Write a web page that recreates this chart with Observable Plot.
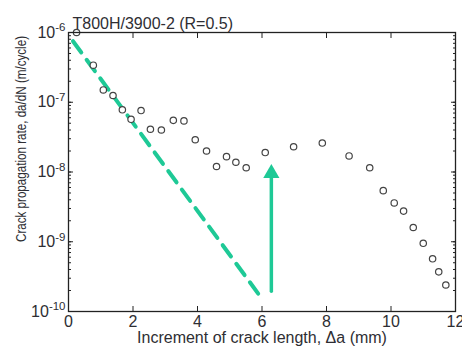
<!DOCTYPE html>
<html>
<head>
<meta charset="utf-8">
<script src="https://cdn.jsdelivr.net/npm/d3@7"></script>
<script src="https://cdn.jsdelivr.net/npm/@observablehq/plot@0.6"></script>
<style>
  html, body { margin: 0; padding: 0; background: white; }
</style>
</head>
<body>
<div id="chart"></div>
<script>
// Title and axis labels
const titleText = "T800H/3900-2 (R=0.5)";
const xLabel = "Increment of crack length, \u0394a (mm)";
const yLabel = "Crack propagation rate, da/dN (m/cycle)";

// Measured points: crack length increment (mm) and da/dN (m/cycle)
const crackIncrement = [0.25, 0.77, 1.08, 1.38, 1.67, 1.94, 2.25, 2.54, 2.88, 3.25, 3.58, 3.93, 4.28, 4.59, 4.90, 5.19, 5.51, 6.10, 6.98, 7.87, 8.70, 9.34, 9.76, 10.10, 10.39, 10.69, 11.00, 11.29, 11.48, 11.70];
const crackRate = [1.0e-6, 3.4e-7, 1.5e-7, 1.25e-7, 7.8e-8, 5.7e-8, 7.6e-8, 4.1e-8, 4.0e-8, 5.5e-8, 5.4e-8, 2.9e-8, 2.0e-8, 1.2e-8, 1.66e-8, 1.38e-8, 1.15e-8, 1.9e-8, 2.3e-8, 2.6e-8, 1.7e-8, 1.15e-8, 5.4e-9, 3.6e-9, 2.75e-9, 1.6e-9, 9.5e-10, 5.7e-10, 3.7e-10, 2.4e-10];

// Dashed reference line (start, end)
const dashX = [0.14, 6.01];
const dashY = [7.5e-7, 1.5e-10];

// Arrow (vertical): x, from, to (tip)
const arrowX = [6.29];
const arrowFrom = [1.95e-10];
const arrowTo = [1.3e-8];

// Ticks
const xTicks = [0, 2, 4, 6, 8, 10, 12];
const yDecades = [1e-10, 1e-9, 1e-8, 1e-7, 1e-6];
const yExponents = ["-10", "-9", "-8", "-7", "-6"];

const green = "#1ec996";
const ink = "#2e2e33";

const points = crackIncrement.map((x, i) => ({x, y: crackRate[i]}));
const dashLine = dashX.map((x, i) => ({x, y: dashY[i]}));
const arrows = arrowX.map((x, i) => ({x, y1: arrowFrom[i], y2: arrowTo[i]}));
const minorTicks = d3.scaleLog().domain([1e-10, 1e-6]).ticks();
const expByDecade = new Map(yDecades.map((d, i) => [d, yExponents[i]]));

const chart = Plot.plot({
  width: 462,
  height: 350,
  marginTop: 32,
  marginBottom: 39,
  marginLeft: 68,
  marginRight: 7,
  style: {fontFamily: "'Liberation Sans', Arial, Helvetica, sans-serif", fontSize: "16px", color: ink, background: "white", overflow: "visible"},
  x: {domain: [0, 12]},
  y: {type: "log", domain: [1e-10, 1e-6]},
  marks: [
    Plot.line(dashLine, {x: "x", y: "y", stroke: green, strokeWidth: 4, strokeDasharray: "14,9"}),
    Plot.arrow(arrows, {x1: "x", x2: "x", y1: "y1", y2: "y2", stroke: green, strokeWidth: 3.5, headLength: 0, insetEnd: 9}),
    Plot.dot(arrows, {x: "x", y: "y2", symbol: "triangle", r: 6, fill: green, stroke: "none", dy: 9.3}),
    Plot.dot(points, {x: "x", y: "y", r: 3.2, stroke: "#444", strokeWidth: 1.2, fill: "white"}),
    Plot.frame({stroke: "#222", strokeWidth: 1.3}),
    Plot.axisX({anchor: "bottom", ticks: xTicks, tickSize: -5, tickPadding: 9, label: null, tickFormat: d => String(d), fontSize: 16, stroke: "#222"}),
    Plot.axisX({anchor: "top", ticks: xTicks, tickSize: -5, label: null, tickFormat: () => "", stroke: "#222"}),
    Plot.axisY({anchor: "left", ticks: minorTicks, tickSize: -3, label: null, tickFormat: () => "", stroke: "#222"}),
    Plot.axisY({anchor: "left", ticks: yDecades, tickSize: -5, tickPadding: 8, label: null, tickFormat: d => "10^" + expByDecade.get(d), fontSize: 16, stroke: "#222"}),
    Plot.axisY({anchor: "right", ticks: minorTicks, tickSize: -3, label: null, tickFormat: () => "", stroke: "#222"}),
    Plot.axisY({anchor: "right", ticks: yDecades, tickSize: -5, label: null, tickFormat: () => "", stroke: "#222"}),
    Plot.text([titleText], {text: d => d, frameAnchor: "top-left", textAnchor: "start", dx: 4, dy: -15, fontSize: 16, fill: ink}),
    Plot.text([xLabel], {text: d => d, frameAnchor: "bottom", dy: 31, fontSize: 16, fill: ink}),
    Plot.text([yLabel], {text: d => d, frameAnchor: "left", textAnchor: "middle", rotate: -90, dx: -47, dy: -33, fontSize: 15.5, fill: ink})
  ]
});

// Superscript exponents on the y tick labels
d3.select(chart).selectAll("text").filter(function() { return this.textContent.includes("^"); }).each(function() {
  const [base, exp] = this.textContent.split("^");
  const sel = d3.select(this);
  sel.text(null);
  sel.append("tspan").text(base);
  sel.append("tspan").attr("dy", "-0.55em").attr("font-size", "11.5px").text(exp);
});
// Condense the y axis label to the reference length
d3.select(chart).selectAll("text").filter(function() { return this.textContent === yLabel; })
  .attr("textLength", 206).attr("lengthAdjust", "spacingAndGlyphs");

document.getElementById("chart").appendChild(chart);
</script>
</body>
</html>
